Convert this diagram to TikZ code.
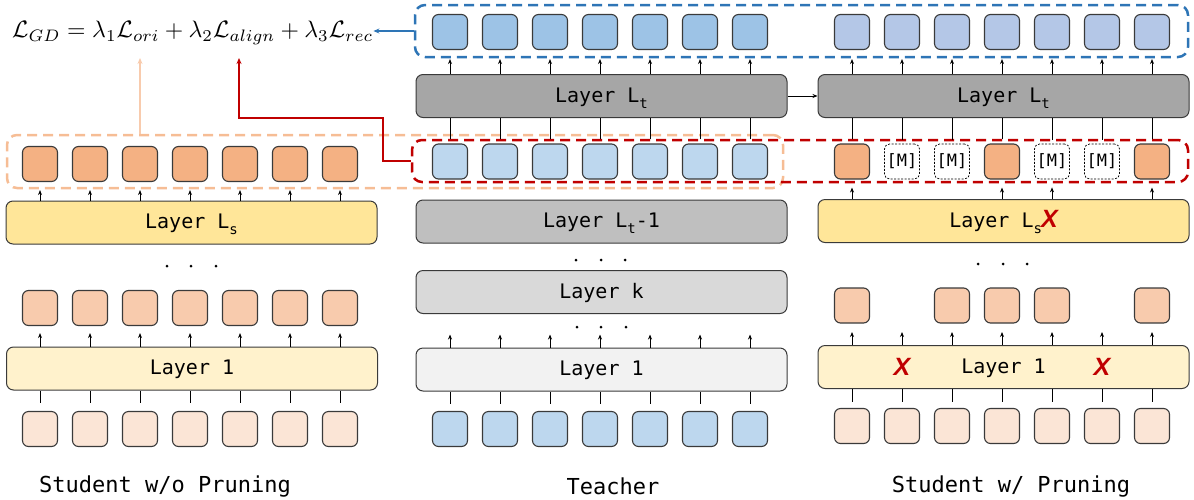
\documentclass[tikz,border=0pt]{standalone}
\usepackage{fontspec}
\setmonofont{DejaVu Sans Mono}
\newfontfamily\xfont{Liberation Sans}
\usetikzlibrary{arrows.meta,calc}
\definecolor{odark}{HTML}{F4B183}
\definecolor{omid}{HTML}{F8CBAD}
\definecolor{olight}{HTML}{FBE5D6}
\definecolor{bdark}{HTML}{9DC3E6}
\definecolor{blight}{HTML}{BDD7EE}
\definecolor{bpurp}{HTML}{B4C7E7}
\definecolor{yel}{HTML}{FFE699}
\definecolor{yellight}{HTML}{FFF2CC}
\definecolor{gA}{HTML}{A6A6A6}
\definecolor{gB}{HTML}{BFBFBF}
\definecolor{gC}{HTML}{D9D9D9}
\definecolor{gD}{HTML}{F2F2F2}
\definecolor{bline}{HTML}{2E75B6}
\definecolor{rline}{HTML}{C00000}
\definecolor{oline}{HTML}{F4B183}
\definecolor{edge}{HTML}{3A3A3A}
\newcommand\lsub[1]{\raisebox{-0.3em}{\fontsize{14}{14}\selectfont #1}}
\newcommand\redx{{\color{rline}\xfont\bfseries\itshape\fontsize{25}{25}\selectfont X}}
\begin{document}
\begin{tikzpicture}[x=1pt,y=-1pt,
  tok/.style={draw=edge, line width=1.1pt, rounded corners=6pt, minimum width=35pt, minimum height=35pt, inner sep=0pt},
  mtok/.style={draw=black, line width=0.7pt, dash pattern=on 2pt off 1.5pt, rounded corners=5pt, fill=white, minimum width=35pt, minimum height=35pt, inner sep=0pt, font=\ttfamily\fontsize{17}{17}\selectfont},
  layer/.style={draw=edge, line width=1pt, rounded corners=7pt, minimum width=371pt, minimum height=43pt, inner sep=0pt, text height=15pt, text depth=3pt, font=\ttfamily\fontsize{20}{20}\selectfont},
  arr/.style={draw=black, line width=0.8pt, -{Stealth[length=5pt,width=4pt]}},
  thin/.style={draw=black, line width=0.8pt},
  dbox/.style={line width=2.5pt, dash pattern=on 10pt off 6pt, rounded corners=10pt, inner sep=0pt},
  dot/.style={circle, fill=black, inner sep=0pt, minimum size=3pt},
  lbl/.style={font=\ttfamily\fontsize{22}{22}\selectfont, inner sep=0pt},
  xmark/.style={inner sep=0pt}
]
\useasboundingbox (0,0) rectangle (1194,499);

% ---------- dashed groups ----------
\node[dbox, draw=oline, opacity=0.85, minimum width=776pt, minimum height=53pt] (obox) at (395,161.5) {};
\node[dbox, draw=rline, minimum width=776pt, minimum height=42pt] (rbox) at (800,161) {};
\node[dbox, draw=bline, minimum width=773pt, minimum height=52pt] (bbox) at (801.5,31) {};

% ---------- formula ----------
\node[anchor=west, inner sep=0pt] (loss) at (12,33) {\resizebox{361pt}{!}{$\mathcal{L}_{GD}=\lambda_1\mathcal{L}_{ori}+\lambda_2\mathcal{L}_{align}+\lambda_3\mathcal{L}_{rec}$}};

% ---------- left column ----------
\node[layer, fill=yel] (lLs) at (191.5,222.5) {Layer L\lsub{s}};
\node[layer, fill=yellight] (lL1) at (192,368.5) {Layer 1};
\foreach \i in {1,...,7} {
  \pgfmathsetmacro\xx{40+50*(\i-1)}
  \node[tok, fill=odark] (ltop\i) at (\xx,164) {};
  \node[tok, fill=omid] (lmid\i) at (\xx,308) {};
  \node[tok, fill=olight] (lbot\i) at (\xx,429) {};
  \draw[arr, shorten >=8pt] (lLs.north -| ltop\i) -- (ltop\i.south);
  \draw[arr, shorten >=7pt] (lL1.north -| lmid\i) -- (lmid\i.south);
  \draw[thin, shorten <=8pt] (lbot\i.north) -- (lbot\i.north |- lL1.south);
}
\node[dot] (ld1) at (167,266) {};
\node[dot] (ld2) at (191,266) {};
\node[dot] (ld3) at (216,266) {};
\node[lbl] (llab) at (165,486) {Student w/o Pruning};

% ---------- teacher column ----------
\node[layer, fill=gA] (tLt) at (601.5,96) {Layer L\lsub{t}};
\node[layer, fill=gB] (tLtm) at (601.5,221.5) {Layer L\lsub{t}-1};
\node[layer, fill=gC] (tLk) at (601.5,292) {Layer k};
\node[layer, fill=gD] (tL1) at (601.5,369.5) {Layer 1};
\foreach \i in {1,...,7} {
  \pgfmathsetmacro\xx{450+50*(\i-1)}
  \node[tok, fill=bdark] (ttop\i) at (\xx,32) {};
  \node[tok, fill=blight] (tmid\i) at (\xx,161.5) {};
  \node[tok, fill=blight] (tbot\i) at (\xx,429) {};
  \draw[arr, shorten >=9pt] (tLt.north -| ttop\i) -- (ttop\i.south);
  \draw[thin, shorten <=4pt] (tmid\i.north) -- (tmid\i.north |- tLt.south);
  \draw[arr] (tL1.north -| tbot\i) -- ++(0,-13);
  \draw[thin, shorten <=7pt] (tbot\i.north) -- (tbot\i.north |- tL1.south);
}
\node[dot] (td1) at (576,260) {};
\node[dot] (td2) at (601,260) {};
\node[dot] (td3) at (625,260) {};
\node[dot] (td4) at (577,327) {};
\node[dot] (td5) at (601,327) {};
\node[dot] (td6) at (626,327) {};
\node[lbl] (tlab) at (613,486) {Teacher};

% ---------- right column ----------
\node[layer, fill=gA] (rLt) at (1003.5,96) {Layer L\lsub{t}};
\node[layer, fill=yel] (rLs) at (1003.5,221) {Layer L\lsub{s}\hspace{-1pt}\redx};
\node[layer, fill=yellight] (rL1) at (1003.5,367) {Layer 1};
\foreach \i in {1,...,7} {
  \pgfmathsetmacro\xx{852+50*(\i-1)}
  \node[tok, fill=bpurp] (rtop\i) at (\xx,32) {};
  \node[tok, fill=olight] (rbot\i) at (\xx,426) {};
  \draw[arr, shorten >=9pt] (rLt.north -| rtop\i) -- (rtop\i.south);
  \draw[arr] (rL1.north -| rbot\i) -- ++(0,-13);
  \draw[thin, shorten <=6pt] (rbot\i.north) -- (rbot\i.north |- rL1.south);
}
\foreach \i in {1,4,7} {
  \pgfmathsetmacro\xx{852+50*(\i-1)}
  \node[tok, fill=odark] (rmid\i) at (\xx,161.5) {};
}
\foreach \i in {2,3,5,6} {
  \pgfmathsetmacro\xx{852+50*(\i-1)}
  \node[mtok] (rmid\i) at (\xx,161.5) {[M]};
}
\foreach \i in {1,...,7} {
  \draw[thin, shorten <=4pt] (rmid\i.north) -- (rmid\i.north |- rLt.south);
}
\foreach \i in {1,4,5,7} {
  \draw[arr, shorten >=8pt] (rLs.north -| rmid\i) -- (rmid\i.south);
}
\foreach \i in {1,3,4,5,7} {
  \pgfmathsetmacro\xx{852+50*(\i-1)}
  \node[tok, fill=omid] (rsec\i) at (\xx,305.5) {};
}
\node[xmark] (rx1) at (902,367) {\redx};
\node[xmark] (rx2) at (1102,367) {\redx};
\node[dot] (rd1) at (978,264) {};
\node[dot] (rd2) at (1003,264) {};
\node[dot] (rd3) at (1027,264) {};
\node[lbl] (rlab) at (1011,486) {Student w/ Pruning};

% ---------- connectors ----------
\draw[arr] (tLt.east) -- (rLt.west);
\coordinate (oend) at (140,58);
\draw[draw=omid, line width=1.5pt, -{Stealth[length=6pt,width=5pt]}] (oend |- obox.north) -- (oend);
\coordinate (rturn) at (239,118);
\coordinate (rend) at (239,58);
\draw[draw=rline, line width=1.8pt, -{Stealth[length=6pt,width=5pt]}] (rbox.west) -- ++(-28,0) |- (rturn) -- (rend);
\draw[draw=bline, line width=1.5pt, -{Stealth[length=6pt,width=5pt]}] (bbox.west) -- (bbox.west -| loss.east);
\end{tikzpicture}
\end{document}
